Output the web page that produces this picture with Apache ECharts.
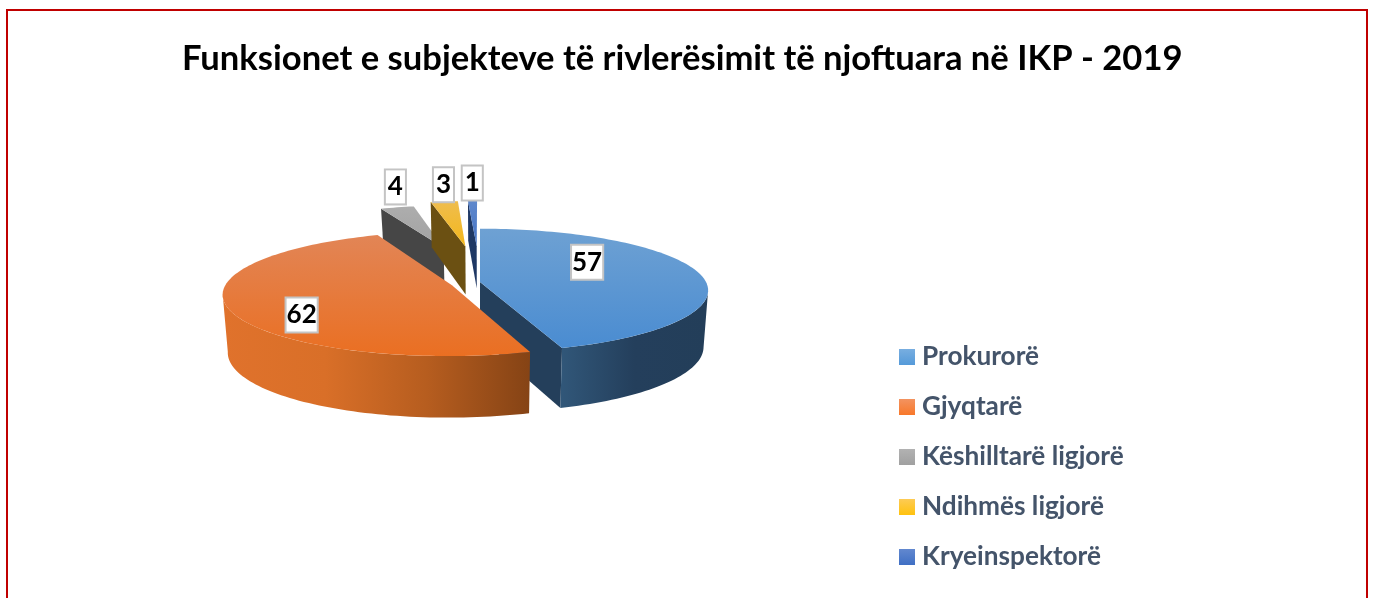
<!DOCTYPE html>
<html><head><meta charset="utf-8">
<style>html,body{margin:0;padding:0;background:#fff}#c{width:1375px;height:598px}</style>
<script src="https://cdn.jsdelivr.net/npm/echarts@6/dist/echarts.min.js"></script>
</head><body><div id="c"></div>
<script>
const titleText = 'Funksionet e subjekteve të rivlerësimit të njoftuara në IKP - 2019';
const categories = ['Prokurorë', 'Gjyqtarë', 'Këshilltarë ligjorë', 'Ndihmës ligjorë', 'Kryeinspektorë'];
const values = [57, 62, 4, 3, 1];

// Look of the tilted, exploded pie (projection and per-slice styling, no data)
const view = { cx: 480, cy: 282, k: 0.268, D: 1661, taper: 0.98 };
const radius  = [226, 225, 205, 225, 225];
const explode = [0, 34, 145, 145, 145];
const lateral = [0, 4, 3, 2, 0];
const height  = [56, 57, 36, 50, 44];
const zOrder  = [3, 4, 2, 2, 2];
const labelPolar = [[55.5, 136], [233.5, 172], [347.7, 320], [354.5, 322], [358.9, 330]];
const grad = (c, v) => new echarts.graphic.LinearGradient(0, 0, v ? 0 : 1, v ? 1 : 0, c.map((s, i) => ({ offset: i / (c.length - 1), color: s })));
const topFill = [
  ['#6ea1d3', '#4a8cd1'], ['#e28556', '#ea6f22'], ['#adadad', '#a2a2a2'], ['#efbd4e', '#f3b71a'], ['#5f88cc', '#4472c4']
].map(c => grad(c, true));
const legendFill = [
  ['#78aee0', '#559ad9'], ['#f39360', '#f8782a'], ['#b2b2b2', '#a0a0a0'], ['#fdcb55', '#ffc20e'], ['#6288cf', '#3f6fc4']
].map(c => grad(c, true));
const cutFill = ['#243f5b', '#b85a1c', '#464646', '#6b5012', '#1f3864'];
const wallFill = [
  grad(['#315779', '#243f5c', '#233e59'], false),
  grad(['#e0722c', '#d96f28', '#b65d1f', '#854315'], false),
  '#464646', '#6b5012', '#1f3864'
];

const total = values.reduce((a, b) => a + b, 0);
const rad = d => d * Math.PI / 180;
const starts = values.map((_, i) => values.slice(0, i).reduce((a, b) => a + b, 0) / total * 360);

function project(U, V) {
  const s = 1 / (1 - V / view.D);
  return [view.cx + U * s, view.cy + view.k * V * s, s];
}
function drop(p, h) {
  return [view.cx + (p[0] - view.cx) * view.taper, p[1] + h * Math.sqrt(p[2])];
}
function makeSlice(i, value) {
  const a0 = starts[i], a1 = a0 + value / total * 360, m = (a0 + a1) / 2;
  const R = radius[i], h = height[i];
  const eU = Math.sin(rad(m)) * explode[i] + lateral[i], eV = -Math.cos(rad(m)) * explode[i];
  const pt = (a, r) => project(eU + Math.sin(rad(a)) * r, eV - Math.cos(rad(a)) * r);
  const xy = p => [p[0], p[1]];
  const apex = pt(0, 0);
  const arc = (from, to) => {
    const n = Math.max(2, Math.ceil((to - from) / 1.5)), out = [];
    for (let j = 0; j <= n; j++) out.push(pt(from + (to - from) * j / n, R));
    return out;
  };
  const poly = (pts, fill) => ({ type: 'polygon', shape: { points: pts }, style: { fill: fill, stroke: null } });
  const kids = [];
  const cut = a => {
    const c = pt(a, R);
    return poly([xy(apex), xy(c), drop(c, h), drop(apex, h)], cutFill[i]);
  };
  if (-Math.sin(rad(a0)) > 0.01) kids.push(cut(a0));
  if (Math.sin(rad(a1)) > 0.01) kids.push(cut(a1));
  const w0 = Math.max(a0, 98), w1 = Math.min(a1, 262);
  if (w1 > w0) {
    const top = arc(w0, w1);
    kids.push(poly(top.map(xy).concat(top.map(p => drop(p, h)).reverse()), wallFill[i]));
  }
  kids.push(poly([xy(apex)].concat(arc(a0, a1).map(xy)), topFill[i]));
  const lp = project(eU + Math.sin(rad(labelPolar[i][0])) * labelPolar[i][1], eV - Math.cos(rad(labelPolar[i][0])) * labelPolar[i][1]);
  const padX = value >= 10 ? 0 : 2;
  kids.push({
    type: 'text', z2: 10,
    style: {
      x: lp[0], y: lp[1], text: String(value), align: 'center', verticalAlign: 'middle',
      font: 'bold 26px Lato, sans-serif', fill: '#000', backgroundColor: '#fff',
      borderColor: '#c4c4c4', borderWidth: 2, padding: [4, padX, 3, padX]
    }
  });
  return { type: 'group', children: kids };
}

const chart = echarts.init(document.getElementById('c'), null, { renderer: 'canvas' });
chart.setOption({
  animation: false,
  backgroundColor: '#fff',
  title: {
    text: titleText, left: 177, top: 36,
    textStyle: { fontFamily: 'Lato', fontWeight: 'bold', fontSize: 34.6, color: '#000' }
  },
  legend: {
    data: categories, orient: 'vertical', left: 894, top: 338, itemWidth: 16, itemHeight: 16,
    itemGap: 22, icon: 'rect', selectedMode: false,
    textStyle: { fontFamily: 'Lato', fontWeight: 'bold', fontSize: 26.2, color: '#44546a', padding: [0, 0, 0, 2], height: 28, lineHeight: 28 }
  },
  graphic: [{
    type: 'polyline', silent: true,
    shape: { points: [[7, 598], [7, 10], [1367, 10], [1367, 598]] },
    style: { stroke: '#c00000', lineWidth: 2, fill: null }
  }],
  series: categories.map((name, i) => ({
    type: 'custom', name: name, coordinateSystem: 'none', z: zOrder[i], silent: true,
    itemStyle: { color: legendFill[i] },
    data: [{ name: name, value: values[i] }],
    renderItem: (params, api) => makeSlice(i, api.value(0))
  }))
});
</script></body></html>
